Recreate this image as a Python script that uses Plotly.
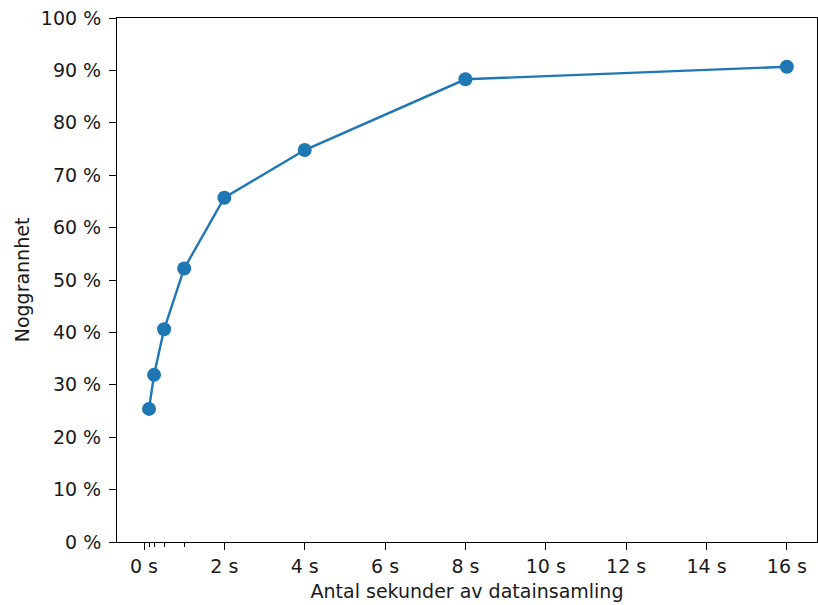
import plotly.graph_objects as go

seconds = [0.125, 0.25, 0.5, 1, 2, 4, 8, 16]
accuracy = [25.4, 31.9, 40.6, 52.2, 65.7, 74.8, 88.3, 90.7]
x_major_ticks = [0, 2, 4, 6, 8, 10, 12, 14, 16]
x_minor_ticks = [0.125, 0.25, 0.5, 1]
y_ticks = [0, 10, 20, 30, 40, 50, 60, 70, 80, 90, 100]

blue = "#1f77b4"
fig = go.Figure(go.Scatter(
    x=seconds, y=accuracy, mode="lines+markers",
    line=dict(color=blue, width=2.4),
    marker=dict(color=blue, size=14),
))

tick_font = dict(family="DejaVu Sans", size=19, color="#1a1a1a")
title_font = dict(family="DejaVu Sans", size=19, color="#1a1a1a")
fig.update_layout(
    width=818, height=605,
    margin=dict(l=117, r=1, t=18, b=63),
    plot_bgcolor="white", paper_bgcolor="white",
    font=tick_font, showlegend=False,
    xaxis=dict(
        range=[-0.672, 16.75],
        tickvals=x_major_ticks, ticktext=[f"{v} s" for v in x_major_ticks],
        ticks="outside", ticklen=7, tickwidth=1, tickcolor="black",
        ticklabelstandoff=0,
        minor=dict(tickvals=x_minor_ticks, ticks="outside", ticklen=4, tickwidth=1, tickcolor="black", showgrid=False),
        showline=True, linecolor="black", linewidth=1, mirror=True,
        showgrid=False, zeroline=False,
        title=dict(text="Antal sekunder av datainsamling", font=title_font, standoff=8),
    ),
    yaxis=dict(
        range=[0, 100],
        tickvals=y_ticks, ticktext=[f"{v} %" for v in y_ticks],
        ticks="outside", ticklen=7, tickwidth=1, tickcolor="black",
        ticklabelstandoff=4,
        showline=True, linecolor="black", linewidth=1, mirror=True,
        showgrid=False, zeroline=False,
        title=dict(text="Noggrannhet", font=title_font, standoff=6),
    ),
)
fig.write_html(
    "out.html",
    config={"displayModeBar": False},
    post_script="document.body.style.margin='0';document.body.style.overflow='hidden';",
)
